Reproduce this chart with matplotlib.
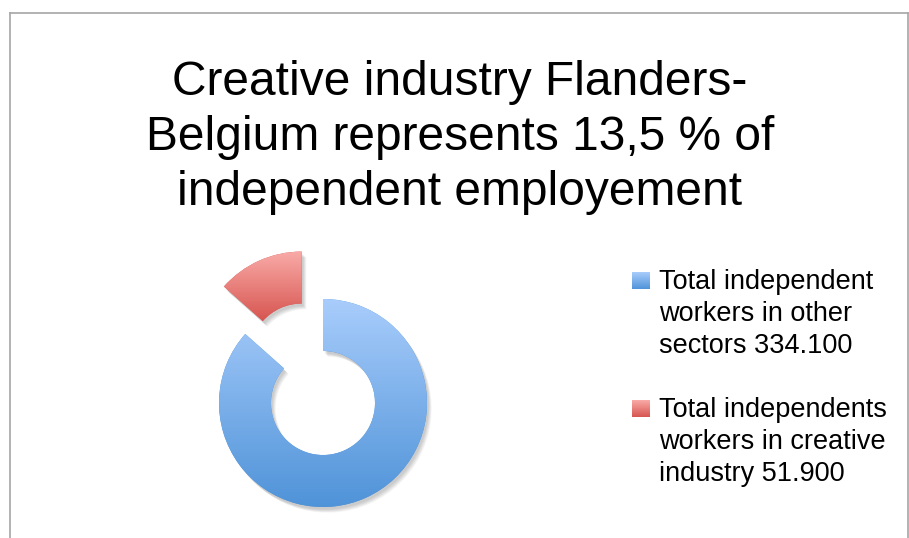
import matplotlib
matplotlib.use('Agg')
import matplotlib.pyplot as plt
import matplotlib.patches as mpatches
import numpy as np
from matplotlib.colors import LinearSegmentedColormap

# data
LABELS = ["Total independent\nworkers in other\nsectors 334.100",
          "Total independents\nworkers in creative\nindustry 51.900"]
VALUES = [334100, 51900]
EXPLODE = [0, 0.5]
TITLE_LINES = ["Creative industry Flanders-",
               "Belgium represents 13,5 % of",
               "independent employement"]

# gradient colours (top -> bottom)
GRADS = [("#a9cdfc", "#4f93d8"), ("#f9aba8", "#d75550")]

plt.rcParams['font.family'] = ['Liberation Sans', 'DejaVu Sans']

W, H = 909, 538
fig = plt.figure(figsize=(W / 100, H / 100), dpi=100)
fig.patch.set_facecolor('white')

# frame border (top, left, right)
fig.add_artist(plt.Line2D([9.5 / W, 9.5 / W], [0, 1 - 12.5 / H], color='#a6a6a6', lw=1.2))
fig.add_artist(plt.Line2D([9.5 / W, 907.5 / W], [1 - 12.5 / H, 1 - 12.5 / H], color='#a6a6a6', lw=1.2))
fig.add_artist(plt.Line2D([907.5 / W, 907.5 / W], [0, 1 - 12.5 / H], color='#a6a6a6', lw=1.2))

# title
for i, line in enumerate(TITLE_LINES):
    fig.text(460 / W, 1 - (95 + 55 * i) / H, line, ha='center', va='baseline',
             fontsize=34.5, color='black')

# donut axes: centre at (323, 403) px, radius 104 px
cx, cy, R = 323, 403, 104
ax = fig.add_axes([(cx - 2 * R) / W, (H - cy - 2 * R) / H, 4 * R / W, 4 * R / H])
wedges, _ = ax.pie(VALUES, explode=EXPLODE, startangle=90, counterclock=False,
                   radius=1, wedgeprops={'width': 0.5, 'linewidth': 0},
                   colors=[g[1] for g in GRADS])

# soft shadow under each wedge
for w in wedges:
    for k in range(6):
        sh = mpatches.Wedge((w.center[0] + 0.015 + 0.006 * k, w.center[1] - 0.025 - 0.006 * k),
                            w.r, w.theta1, w.theta2, width=w.width,
                            facecolor='black', alpha=0.035, linewidth=0, zorder=0)
        ax.add_patch(sh)

# gradient fill clipped to each wedge
grad = np.linspace(0, 1, 256).reshape(-1, 1)
for w, (c_top, c_bot) in zip(wedges, GRADS):
    cmap = LinearSegmentedColormap.from_list('g', [c_top, c_bot])
    w.set_zorder(2)
    x0, y0 = w.center
    # vertical extent of the wedge
    ext_y = (y0 - w.r, y0 + w.r) if w.theta2 - w.theta1 > 180 else None
    if ext_y is None:
        angs = np.radians(np.linspace(w.theta1, w.theta2, 50))
        ys = np.concatenate([y0 + w.r * np.sin(angs), y0 + (w.r - w.width) * np.sin(angs)])
        ext_y = (ys.min(), ys.max())
    im = ax.imshow(grad, cmap=cmap, aspect='auto', zorder=3,
                   extent=[x0 - w.r, x0 + w.r, ext_y[0], ext_y[1]], origin='upper')
    im.set_clip_path(w)

ax.set_xlim(-2, 2)
ax.set_ylim(-2, 2)
ax.set_aspect('equal')
ax.axis('off')

# legend, drawn by hand so the square sits at the first line
entry_baselines = [289, 417]
for (label, (c_top, c_bot)), yb in zip(zip(LABELS, GRADS), entry_baselines):
    sq = fig.add_axes([632 / W, 1 - 289 / H - (yb - 289) / H, 18 / W, 17 / H])
    sq.imshow(grad, cmap=LinearSegmentedColormap.from_list('g', [c_top, c_bot]),
              aspect='auto')
    sq.axis('off')
    for j, line in enumerate(label.split('\n')):
        fig.text(659 / W, 1 - (yb + 32 * j) / H, line, ha='left', va='baseline',
                 fontsize=19.5, color='black')

fig.savefig('out.png', dpi=100, facecolor='white')
plt.close(fig)
